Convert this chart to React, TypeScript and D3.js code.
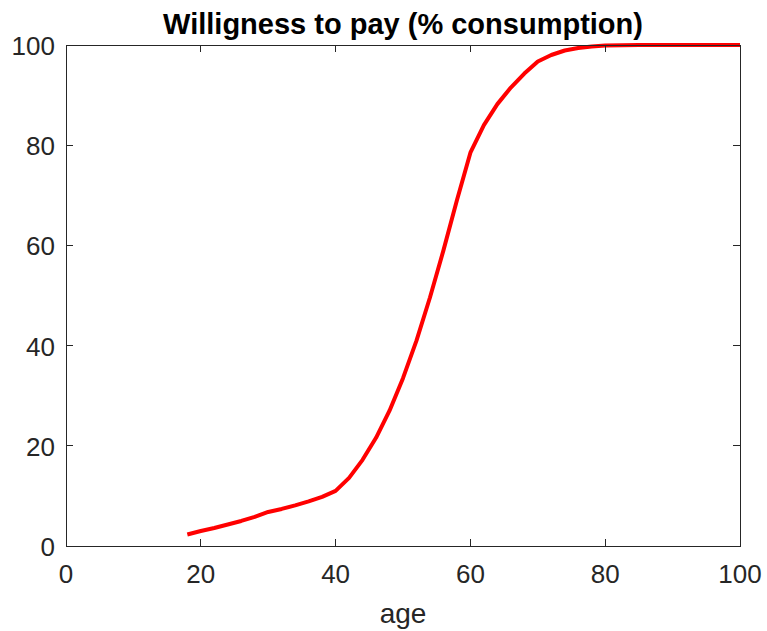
import { useEffect, useRef } from 'react'
import * as d3 from 'd3'

const ages = [18, 20, 22, 24, 26, 28, 30, 32, 34, 36, 38, 40, 42, 44, 46, 48, 50, 52, 54, 56, 58, 60, 62, 64, 66, 68, 70, 72, 74, 76, 78, 80, 85, 90, 95, 100]
const wtp = [2.3, 3.0, 3.6, 4.3, 5.0, 5.8, 6.8, 7.4, 8.1, 8.9, 9.8, 11.0, 13.6, 17.2, 21.6, 27.0, 33.5, 41.0, 49.6, 59.0, 69.0, 78.5, 84.0, 88.2, 91.5, 94.3, 96.7, 98.0, 98.9, 99.4, 99.7, 99.9, 100, 100, 100, 100]
const xTicks = [0, 20, 40, 60, 80, 100]
const yTicks = [0, 20, 40, 60, 80, 100]

const title = 'Willigness to pay (% consumption)'
const xLabel = 'age'

export default function App() {
  const svgRef = useRef<SVGSVGElement>(null)

  useEffect(() => {
    if (!svgRef.current) return
    const svg = d3.select(svgRef.current)
    svg.selectAll('*').remove()

    const W = 767
    const H = 631
    const margin = { top: 45, right: 27, bottom: 85, left: 66 }
    const width = W - margin.left - margin.right
    const height = H - margin.top - margin.bottom
    const font = '"Liberation Sans", Arial, Helvetica, sans-serif'
    const axisColor = '#262626'
    const tickLen = 7

    const x = d3.scaleLinear().domain([0, 100]).range([0, width])
    const y = d3.scaleLinear().domain([0, 100]).range([height, 0])

    const g = svg.append('g').attr('transform', `translate(${margin.left},${margin.top})`)

    // line
    const data = ages.map((a, i) => ({ age: a, v: wtp[i] }))
    const line = d3.line<{ age: number; v: number }>()
      .x(d => x(d.age))
      .y(d => y(d.v))
    g.append('path')
      .datum(data)
      .attr('fill', 'none')
      .attr('stroke', '#ff0000')
      .attr('stroke-width', 4)
      .attr('stroke-linejoin', 'round')
      .attr('d', line)

    // box
    g.append('rect')
      .attr('x', 0).attr('y', 0)
      .attr('width', width).attr('height', height)
      .attr('fill', 'none')
      .attr('stroke', axisColor)
      .attr('stroke-width', 1)
      .attr('shape-rendering', 'crispEdges')

    // inward ticks on all four sides
    const ticks = g.append('g').attr('stroke', axisColor).attr('shape-rendering', 'crispEdges')
    xTicks.forEach(t => {
      ticks.append('line').attr('x1', x(t)).attr('x2', x(t)).attr('y1', height).attr('y2', height - tickLen)
      ticks.append('line').attr('x1', x(t)).attr('x2', x(t)).attr('y1', 0).attr('y2', tickLen)
    })
    yTicks.forEach(t => {
      ticks.append('line').attr('y1', y(t)).attr('y2', y(t)).attr('x1', 0).attr('x2', tickLen)
      ticks.append('line').attr('y1', y(t)).attr('y2', y(t)).attr('x1', width).attr('x2', width - tickLen)
    })

    // tick labels
    g.selectAll('.xt')
      .data(xTicks)
      .enter()
      .append('text')
      .attr('class', 'xt')
      .attr('x', d => x(d))
      .attr('y', height + 37)
      .attr('text-anchor', 'middle')
      .style('font-family', font)
      .style('font-size', '26px')
      .style('fill', axisColor)
      .text(d => d)

    g.selectAll('.yt')
      .data(yTicks)
      .enter()
      .append('text')
      .attr('class', 'yt')
      .attr('x', -11)
      .attr('y', d => y(d) + 10)
      .attr('text-anchor', 'end')
      .style('font-family', font)
      .style('font-size', '26px')
      .style('fill', axisColor)
      .text(d => d)

    g.append('text')
      .attr('x', width / 2)
      .attr('y', height + 77)
      .attr('text-anchor', 'middle')
      .style('font-family', font)
      .style('font-size', '28px')
      .style('fill', axisColor)
      .text(xLabel)

    g.append('text')
      .attr('x', width / 2)
      .attr('y', -11)
      .attr('text-anchor', 'middle')
      .style('font-family', font)
      .style('font-size', '29px')
      .style('font-weight', 'bold')
      .style('fill', '#000')
      .text(title)
  }, [])

  return (
    <svg
      ref={svgRef}
      width={767}
      height={631}
      style={{ position: 'absolute', left: 0, top: 0, background: '#fff' }}
    />
  )
}
